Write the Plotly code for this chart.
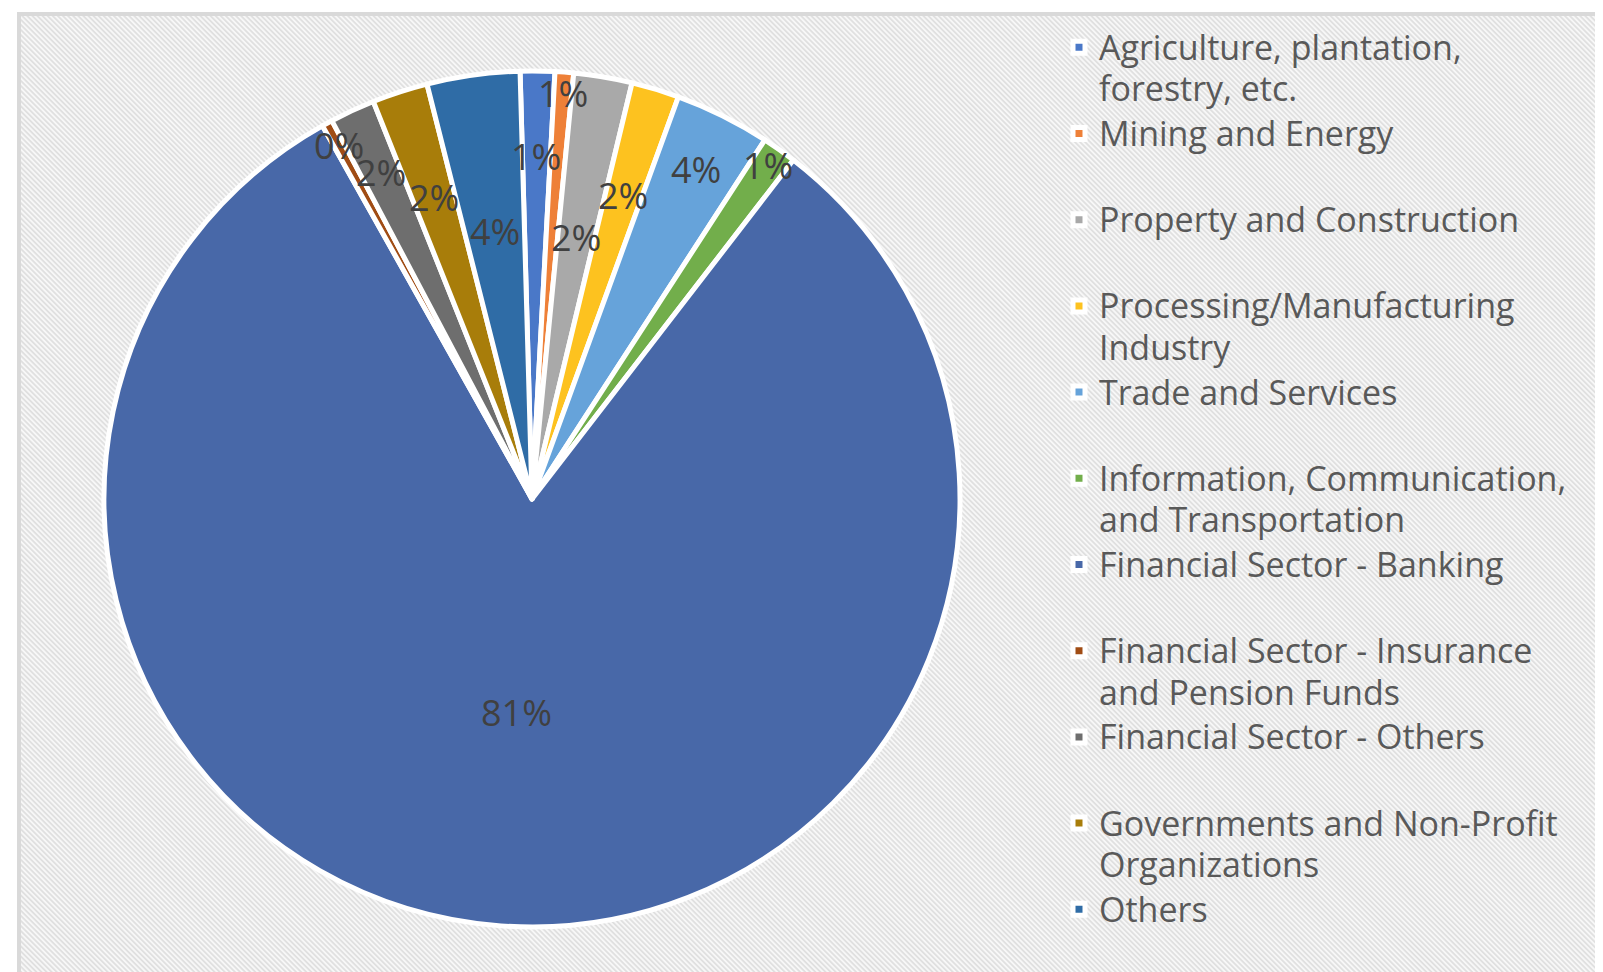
import base64
import math
import plotly.graph_objects as go

# sector shares of the loan portfolio (%)
sectors = [
    'Agriculture, plantation,<br>forestry, etc.',
    'Mining and Energy<br> ',
    'Property and Construction<br> ',
    'Processing/Manufacturing<br>Industry',
    'Trade and Services<br> ',
    'Information, Communication,<br>and Transportation',
    'Financial Sector - Banking<br> ',
    'Financial Sector - Insurance<br>and Pension Funds',
    'Financial Sector - Others<br> ',
    'Governments and Non-Profit<br>Organizations',
    'Others',
]
shares = [1.3, 0.7, 2.2, 1.8, 3.6, 1.3, 81.4, 0.4, 1.7, 2.1, 3.5]

colors = ['#4a78c8', '#ee8038', '#a9a9a9', '#fdc21f', '#66a3da', '#72ae4b',
          '#4868a8', '#a04c14', '#6e6e6e', '#a87d0a', '#2f6ca6']

# how far out (fraction of radius) Excel put each data label
label_r = [0.80, 0.95, 0.62, 0.74, 0.86, 0.955, 0.50, 0.94, 0.84, 0.74, 0.63]

W, H = 1595, 964          # page body adds an 8px margin
start_angle = -1.6        # first slice starts just left of 12 o'clock

# pie box in figure pixels
px0, px1, py0, py1 = 96, 952, 63, 919
cx, cy = (px0 + px1) / 2, (py0 + py1) / 2
radius = (px1 - px0) / 2

# hatched background like the Excel chart area
svg = (
    f'<svg xmlns="http://www.w3.org/2000/svg" width="{W - 13}" height="{H - 8}">'
    '<defs><pattern id="p" width="3.6" height="3.6" patternUnits="userSpaceOnUse" '
    'patternTransform="rotate(-45)">'
    '<rect width="3.6" height="3.6" fill="#f7f7f7"/>'
    '<rect width="1.8" height="3.6" fill="#e0e0e0"/>'
    '</pattern></defs>'
    '<rect width="100%" height="100%" fill="url(#p)"/></svg>'
)
bg_src = 'data:image/svg+xml;base64,' + base64.b64encode(svg.encode()).decode()

# legend text drawn a bit larger than the legend's line pitch
legend_labels = ['<br>'.join(f'<span style="font-size:34px">{part}</span>'
                             for part in s.split('<br>')) for s in sectors]

fig = go.Figure()

fig.add_trace(go.Pie(
    labels=legend_labels,
    values=shares,
    sort=False,
    direction='clockwise',
    rotation=start_angle,
    marker=dict(colors=colors, line=dict(color='white', width=[5] * len(shares))),
    textinfo='none',
    domain=dict(x=[px0 / W, px1 / W], y=[1 - py1 / H, 1 - py0 / H]),
    hoverinfo='percent',
))

# data labels on each slice's bisector
total = sum(shares)
annotations = []
cum = 0.0
for v, rf in zip(shares, label_r):
    mid = math.radians(start_angle + (cum + v / 2) / total * 360)
    cum += v
    x = cx + rf * radius * math.sin(mid)
    y = cy - rf * radius * math.cos(mid)
    annotations.append(dict(
        x=x / W, y=1 - y / H, xref='paper', yref='paper',
        xanchor='center', yanchor='middle',
        text=f'{round(v / total * 100)}%', showarrow=False,
        font=dict(family='Open Sans', size=36, color='#404040'),
    ))

fig.update_layout(
    width=W,
    height=H,
    margin=dict(l=0, r=0, t=0, b=0),
    paper_bgcolor='white',
    font=dict(family='Open Sans', color='#595959'),
    annotations=annotations,
    legend=dict(
        x=1051 / W,
        y=1 - 12 / H,
        xanchor='left',
        yanchor='top',
        valign='top',
        bgcolor='rgba(0,0,0,0)',
        font=dict(family='Open Sans', size=32, color='#595959'),
        traceorder='normal',
    ),
    images=[dict(
        source=bg_src,
        xref='paper', yref='paper',
        x=13 / W, y=1 - 8 / H,
        sizex=1 - 13 / W, sizey=1 - 8 / H,
        xanchor='left', yanchor='top',
        sizing='stretch',
        layer='below',
    )],
    shapes=[dict(
        type='rect', xref='paper', yref='paper',
        x0=11 / W, x1=1.05, y0=-0.05, y1=1 - 6 / H,
        line=dict(color='#d9d9d9', width=4),
        fillcolor='rgba(0,0,0,0)',
        layer='below',
    )],
)

fig.write_html('out.html')
